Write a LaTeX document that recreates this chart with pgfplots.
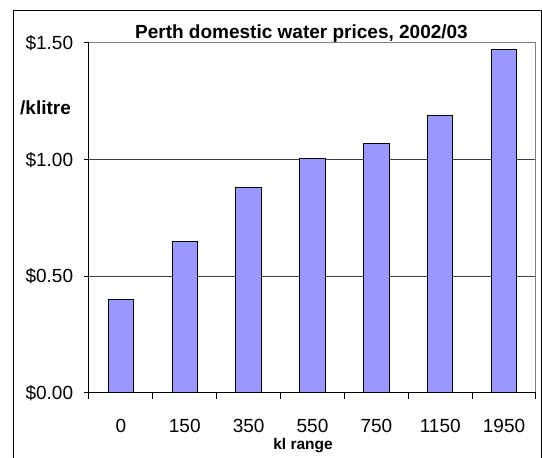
\documentclass[border=0pt]{standalone}
\usepackage{fontspec}
\setmainfont{Liberation Sans}
\usepackage{pgfplots}
\pgfplotsset{compat=1.18}
\definecolor{barfill}{HTML}{9999FF}
\definecolor{boxgray}{HTML}{808080}
\definecolor{gridc}{HTML}{404040}
\begin{document}
\begin{tikzpicture}[x=1pt,y=1pt]
\useasboundingbox (0,0) rectangle (542,458);
\draw[line width=1pt, black] (13,0) -- (13,447) -- (541,447) -- (541,0);
\begin{axis}[
  at={(89pt,65pt)}, anchor=south west,
  scale only axis, width=447pt, height=350pt,
  xmin=-0.5, xmax=6.5, ymin=0, ymax=1.5,
  axis line style={draw=boxgray, line width=1pt},
  xtick={0,1,2,3,4,5,6},
  xticklabels={0,150,350,550,750,1150,1950},
  minor xtick={-0.5,0.5,1.5,2.5,3.5,4.5,5.5,6.5},
  major x tick style={draw=none},
  minor x tick style={black, line width=1pt},
  minor tick length=6pt,
  ytick={0,0.5,1},
  yticklabels={\$0.00,\$0.50,\$1.00},
  extra y ticks={1.5},
  extra y tick labels={\$1.50},
  extra y tick style={grid=none},
  major y tick style={black, line width=1pt},
  major tick length=5pt,
  tick align=outside,
  xtick pos=bottom, ytick pos=left,
  ymajorgrids,
  major grid style={gridc, line width=1pt},
  tick label style={font=\fontsize{19}{19}\selectfont, inner sep=0pt},
  xticklabel style={anchor=base, yshift=-34.6pt},
  yticklabel style={anchor=east, xshift=-10.7pt},
  clip=false,
]
\addplot[ybar, bar width=0.4, fill=barfill, draw=black, line width=1pt]
  coordinates {(0,0.40) (1,0.65) (2,0.88) (3,1.005) (4,1.07) (5,1.19) (6,1.47)};
\draw[black, line width=1pt] (rel axis cs:0,1) -- (rel axis cs:0,0) -- (rel axis cs:1,0);
\end{axis}
\node[anchor=base, inner sep=0pt, font=\fontsize{19}{19}\selectfont\bfseries] at (301.5,419.5) {Perth domestic water prices, 2002/03};
\node[anchor=base west, inner sep=0pt, font=\fontsize{19}{19}\selectfont\bfseries] at (20,343) {/klitre};
\node[anchor=base, inner sep=0pt, font=\fontsize{15.5}{15.5}\selectfont\bfseries] at (303,8) {kl range};
\end{tikzpicture}
\end{document}
